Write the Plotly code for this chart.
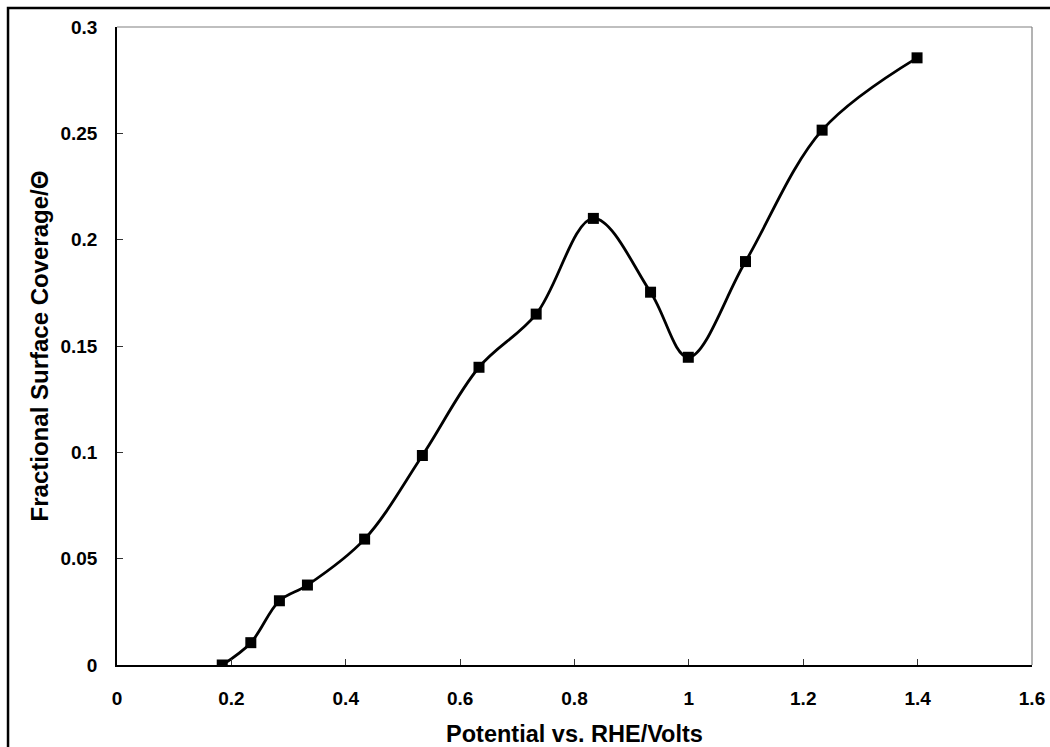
import plotly.graph_objects as go

# Potential (V vs. RHE) and fractional surface coverage
potential = [0.184, 0.234, 0.284, 0.333, 0.433, 0.534, 0.633, 0.733,
             0.833, 0.933, 0.999, 1.099, 1.233, 1.399]
coverage = [0.0, 0.0105, 0.0302, 0.0376, 0.0592, 0.0985, 0.140, 0.165,
            0.210, 0.1753, 0.1447, 0.1897, 0.2515, 0.2855]

x_ticks = [0, 0.2, 0.4, 0.6, 0.8, 1.0, 1.2, 1.4, 1.6]
x_tick_text = ["0", "0.2", "0.4", "0.6", "0.8", "1", "1.2", "1.4", "1.6"]
y_ticks = [0, 0.05, 0.1, 0.15, 0.2, 0.25, 0.3]
y_tick_text = ["0", "0.05", "0.1", "0.15", "0.2", "0.25", "0.3"]

FONT = "Liberation Sans, Arial, sans-serif"

fig = go.Figure()
fig.add_trace(go.Scatter(
    x=potential, y=coverage,
    mode="lines+markers",
    line=dict(color="black", width=2.8, shape="spline", smoothing=1),
    marker=dict(symbol="square", size=11, color="black"),
    showlegend=False,
))

axis_common = dict(
    showgrid=False, zeroline=False, automargin=False,
    showline=True, linecolor="black", linewidth=1.5,
    ticks="inside", ticklen=6, tickwidth=1, tickcolor="#333333",
    tickfont=dict(family=FONT, size=19, color="black", weight="bold"),
    mirror=False,
)

fig.update_xaxes(
    range=[0, 1.6], tickvals=x_ticks, ticktext=x_tick_text,
    ticklabelstandoff=15,
    title=dict(text="<b>Potential vs. RHE/Volts</b>", standoff=20,
               font=dict(family=FONT, size=23.5, color="black")),
    **axis_common,
)
fig.update_yaxes(
    range=[0, 0.3], tickvals=y_ticks, ticktext=y_tick_text,
    ticklabelstandoff=14,
    title=dict(text="<b>Fractional Surface Coverage/\u0398</b>", standoff=5,
               font=dict(family=FONT, size=24, color="black")),
    **axis_common,
)

# gray plot-area frame on the top and right
fig.add_shape(type="line", xref="paper", yref="paper", x0=0, x1=1, y0=1, y1=1,
              line=dict(color="#808080", width=1.2))
fig.add_shape(type="line", xref="paper", yref="paper", x0=1, x1=1, y0=0, y1=1,
              line=dict(color="#808080", width=1.2))

# outer chart border
fig.add_shape(type="rect", xref="paper", yref="paper",
              x0=-0.1191, x1=1.3, y0=-0.5, y1=1.0298,
              line=dict(color="black", width=2.5), layer="above")

fig.update_layout(
    template="none",
    width=1050, height=747,
    margin=dict(l=117, r=18, t=27, b=82),
    paper_bgcolor="white", plot_bgcolor="white",
    font=dict(family=FONT),
)

fig.write_html("out.html")
